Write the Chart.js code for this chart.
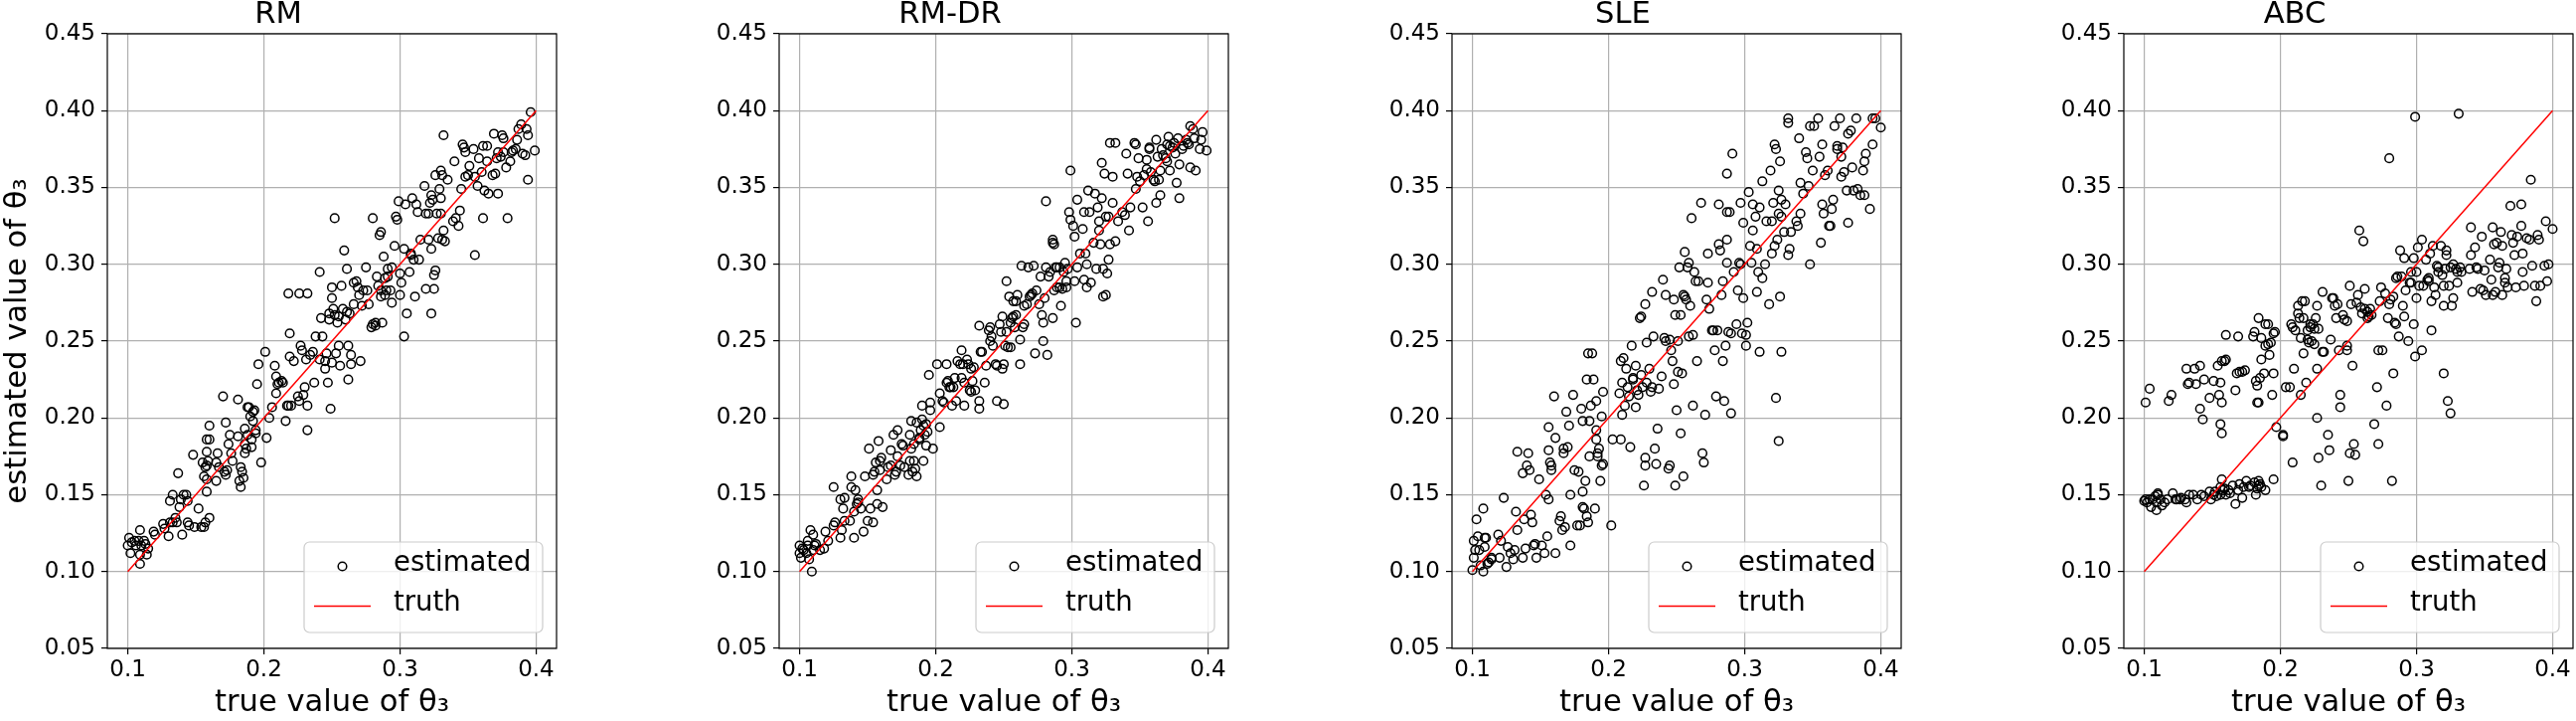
<!DOCTYPE html>
<html>
<head>
<meta charset="utf-8">
<script src="https://cdn.jsdelivr.net/npm/chart.js@4.4.1/dist/chart.umd.min.js"></script>
<style>
html,body{margin:0;padding:0;background:#fff;overflow:hidden;width:2592px;height:725px;}
.p{position:absolute;top:0;width:668px;height:725px;}
canvas{display:block;}
</style>
</head>
<body>
<div class="p" id="w0"><canvas id="c0" width="668" height="725"></canvas></div>
<div class="p" id="w1"><canvas id="c1" width="668" height="725"></canvas></div>
<div class="p" id="w2"><canvas id="c2" width="668" height="725"></canvas></div>
<div class="p" id="w3"><canvas id="c3" width="668" height="725"></canvas></div>
<script>
const panelTitles = ['RM', 'RM-DR', 'SLE', 'ABC'];
const xTicks = [0.1, 0.2, 0.3, 0.4];
const yTicks = [0.05, 0.10, 0.15, 0.20, 0.25, 0.30, 0.35, 0.40, 0.45];
const xLabel = 'true value of θ₃';
const yLabel = 'estimated value of θ₃';
const legendLabels = ['estimated', 'truth'];
const truthLine = [0.1, 0.4];

const rmPts = [[0.100,0.117],[0.101,0.122],[0.102,0.112],[0.103,0.119],[0.105,0.120],[0.106,0.117],[0.108,0.120],[0.109,0.127],[0.109,0.111],[0.109,0.105],[0.110,0.117],[0.112,0.120],[0.113,0.118],[0.114,0.111],[0.115,0.115],[0.119,0.126],[0.120,0.124],[0.126,0.131],[0.127,0.128],[0.130,0.123],[0.131,0.132],[0.131,0.146],[0.133,0.132],[0.133,0.150],[0.135,0.135],[0.136,0.132],[0.137,0.164],[0.138,0.142],[0.139,0.147],[0.140,0.124],[0.141,0.150],[0.143,0.150],[0.144,0.132],[0.144,0.146],[0.145,0.130],[0.148,0.176],[0.149,0.129],[0.152,0.141],[0.154,0.129],[0.156,0.129],[0.157,0.132],[0.158,0.152],[0.155,0.171],[0.156,0.162],[0.157,0.168],[0.158,0.160],[0.159,0.172],[0.160,0.135],[0.158,0.186],[0.160,0.186],[0.160,0.195],[0.158,0.178],[0.158,0.169],[0.165,0.159],[0.165,0.171],[0.166,0.177],[0.167,0.168],[0.170,0.214],[0.171,0.165],[0.172,0.197],[0.172,0.163],[0.173,0.166],[0.174,0.183],[0.175,0.189],[0.176,0.177],[0.177,0.172],[0.181,0.212],[0.181,0.188],[0.182,0.159],[0.183,0.155],[0.183,0.168],[0.184,0.165],[0.185,0.161],[0.186,0.193],[0.186,0.183],[0.186,0.177],[0.187,0.180],[0.188,0.189],[0.188,0.207],[0.189,0.207],[0.190,0.201],[0.191,0.186],[0.191,0.181],[0.192,0.198],[0.192,0.204],[0.193,0.205],[0.194,0.192],[0.194,0.190],[0.195,0.222],[0.196,0.235],[0.198,0.171],[0.202,0.187],[0.201,0.243],[0.204,0.200],[0.206,0.207],[0.208,0.234],[0.209,0.216],[0.209,0.227],[0.210,0.222],[0.211,0.223],[0.213,0.224],[0.214,0.223],[0.216,0.198],[0.217,0.208],[0.218,0.208],[0.218,0.281],[0.219,0.255],[0.219,0.240],[0.220,0.208],[0.222,0.237],[0.225,0.214],[0.226,0.281],[0.226,0.211],[0.227,0.247],[0.228,0.244],[0.229,0.215],[0.230,0.220],[0.231,0.238],[0.232,0.281],[0.232,0.208],[0.232,0.192],[0.234,0.241],[0.236,0.243],[0.237,0.223],[0.238,0.253],[0.241,0.295],[0.241,0.238],[0.242,0.265],[0.243,0.253],[0.245,0.232],[0.245,0.237],[0.246,0.242],[0.247,0.223],[0.248,0.268],[0.248,0.264],[0.249,0.206],[0.250,0.285],[0.250,0.236],[0.250,0.278],[0.251,0.271],[0.252,0.267],[0.252,0.330],[0.253,0.242],[0.254,0.262],[0.255,0.266],[0.255,0.247],[0.256,0.234],[0.257,0.286],[0.258,0.271],[0.259,0.309],[0.260,0.264],[0.261,0.297],[0.261,0.269],[0.262,0.225],[0.262,0.247],[0.263,0.268],[0.264,0.235],[0.264,0.241],[0.266,0.288],[0.266,0.274],[0.268,0.289],[0.269,0.285],[0.270,0.280],[0.271,0.237],[0.272,0.273],[0.273,0.283],[0.275,0.298],[0.276,0.283],[0.277,0.274],[0.279,0.259],[0.280,0.261],[0.280,0.330],[0.282,0.260],[0.282,0.262],[0.283,0.292],[0.284,0.286],[0.285,0.319],[0.286,0.321],[0.286,0.279],[0.286,0.283],[0.287,0.262],[0.288,0.305],[0.289,0.291],[0.289,0.280],[0.290,0.283],[0.291,0.292],[0.291,0.297],[0.293,0.283],[0.294,0.298],[0.294,0.275],[0.296,0.312],[0.297,0.331],[0.298,0.329],[0.299,0.341],[0.300,0.294],[0.300,0.280],[0.301,0.288],[0.303,0.310],[0.303,0.253],[0.304,0.339],[0.305,0.268],[0.307,0.295],[0.308,0.307],[0.308,0.306],[0.309,0.343],[0.310,0.303],[0.311,0.279],[0.312,0.339],[0.313,0.334],[0.314,0.303],[0.315,0.316],[0.318,0.351],[0.319,0.284],[0.319,0.333],[0.321,0.333],[0.321,0.316],[0.322,0.340],[0.323,0.345],[0.323,0.268],[0.323,0.310],[0.324,0.342],[0.325,0.284],[0.325,0.293],[0.326,0.296],[0.326,0.358],[0.327,0.333],[0.328,0.317],[0.329,0.349],[0.330,0.333],[0.330,0.361],[0.330,0.343],[0.331,0.358],[0.331,0.316],[0.332,0.322],[0.332,0.384],[0.333,0.315],[0.335,0.355],[0.339,0.328],[0.340,0.367],[0.341,0.330],[0.343,0.325],[0.344,0.335],[0.345,0.349],[0.346,0.378],[0.347,0.376],[0.348,0.373],[0.348,0.357],[0.350,0.358],[0.351,0.364],[0.354,0.375],[0.355,0.306],[0.355,0.357],[0.357,0.351],[0.358,0.369],[0.360,0.360],[0.361,0.377],[0.361,0.330],[0.362,0.348],[0.364,0.377],[0.364,0.367],[0.365,0.346],[0.368,0.358],[0.369,0.385],[0.370,0.359],[0.371,0.369],[0.372,0.346],[0.372,0.373],[0.374,0.370],[0.375,0.384],[0.376,0.382],[0.376,0.373],[0.378,0.363],[0.379,0.330],[0.381,0.367],[0.382,0.373],[0.383,0.374],[0.385,0.375],[0.386,0.381],[0.387,0.388],[0.389,0.391],[0.390,0.372],[0.392,0.371],[0.393,0.388],[0.394,0.384],[0.394,0.355],[0.396,0.399],[0.399,0.374]];

const rmdrPts = [[0.100,0.117],[0.100,0.112],[0.101,0.109],[0.102,0.115],[0.103,0.114],[0.105,0.112],[0.106,0.117],[0.106,0.120],[0.107,0.108],[0.108,0.127],[0.109,0.100],[0.110,0.124],[0.110,0.114],[0.111,0.117],[0.112,0.118],[0.115,0.114],[0.118,0.115],[0.119,0.126],[0.121,0.120],[0.125,0.155],[0.125,0.130],[0.126,0.132],[0.130,0.147],[0.130,0.122],[0.131,0.127],[0.132,0.141],[0.133,0.148],[0.133,0.133],[0.137,0.133],[0.138,0.155],[0.138,0.162],[0.140,0.122],[0.140,0.139],[0.141,0.153],[0.142,0.144],[0.143,0.147],[0.143,0.145],[0.145,0.141],[0.147,0.126],[0.148,0.162],[0.150,0.133],[0.151,0.180],[0.152,0.141],[0.154,0.132],[0.154,0.163],[0.155,0.165],[0.156,0.171],[0.157,0.144],[0.157,0.153],[0.158,0.185],[0.159,0.166],[0.159,0.172],[0.160,0.174],[0.161,0.142],[0.164,0.160],[0.165,0.168],[0.167,0.169],[0.167,0.179],[0.169,0.189],[0.170,0.163],[0.171,0.165],[0.172,0.192],[0.172,0.175],[0.174,0.169],[0.175,0.183],[0.176,0.182],[0.177,0.168],[0.180,0.163],[0.181,0.189],[0.181,0.172],[0.182,0.198],[0.182,0.180],[0.183,0.165],[0.184,0.172],[0.184,0.183],[0.185,0.167],[0.186,0.162],[0.186,0.197],[0.188,0.187],[0.188,0.186],[0.189,0.192],[0.190,0.208],[0.190,0.199],[0.191,0.172],[0.191,0.195],[0.192,0.189],[0.193,0.196],[0.193,0.182],[0.194,0.191],[0.195,0.228],[0.196,0.205],[0.196,0.210],[0.198,0.180],[0.201,0.235],[0.203,0.194],[0.203,0.216],[0.205,0.211],[0.206,0.210],[0.208,0.235],[0.208,0.223],[0.209,0.224],[0.210,0.220],[0.211,0.220],[0.212,0.208],[0.213,0.220],[0.214,0.226],[0.215,0.211],[0.216,0.237],[0.218,0.235],[0.219,0.244],[0.219,0.226],[0.220,0.235],[0.221,0.223],[0.221,0.208],[0.223,0.238],[0.224,0.235],[0.225,0.218],[0.226,0.217],[0.226,0.232],[0.227,0.224],[0.228,0.233],[0.229,0.218],[0.232,0.260],[0.232,0.211],[0.232,0.206],[0.233,0.243],[0.234,0.243],[0.236,0.223],[0.237,0.234],[0.239,0.257],[0.240,0.259],[0.240,0.250],[0.241,0.253],[0.242,0.247],[0.244,0.235],[0.245,0.211],[0.245,0.234],[0.247,0.261],[0.248,0.256],[0.249,0.266],[0.249,0.232],[0.250,0.209],[0.250,0.235],[0.251,0.247],[0.252,0.256],[0.252,0.289],[0.253,0.246],[0.254,0.279],[0.255,0.246],[0.255,0.262],[0.256,0.265],[0.257,0.276],[0.257,0.266],[0.258,0.259],[0.259,0.276],[0.259,0.267],[0.260,0.280],[0.262,0.235],[0.262,0.251],[0.263,0.299],[0.264,0.259],[0.265,0.261],[0.265,0.273],[0.267,0.274],[0.268,0.298],[0.269,0.279],[0.270,0.280],[0.271,0.281],[0.272,0.299],[0.273,0.242],[0.274,0.283],[0.276,0.274],[0.277,0.292],[0.278,0.267],[0.279,0.262],[0.279,0.250],[0.280,0.278],[0.281,0.341],[0.281,0.298],[0.282,0.241],[0.283,0.292],[0.284,0.295],[0.286,0.316],[0.286,0.314],[0.286,0.265],[0.287,0.313],[0.287,0.283],[0.288,0.298],[0.289,0.285],[0.289,0.298],[0.291,0.285],[0.291,0.298],[0.292,0.273],[0.293,0.284],[0.294,0.295],[0.295,0.301],[0.296,0.285],[0.296,0.289],[0.297,0.297],[0.298,0.334],[0.299,0.329],[0.299,0.361],[0.301,0.325],[0.302,0.289],[0.302,0.318],[0.303,0.262],[0.304,0.342],[0.304,0.298],[0.306,0.307],[0.308,0.323],[0.309,0.290],[0.309,0.334],[0.310,0.307],[0.311,0.285],[0.311,0.300],[0.312,0.348],[0.313,0.334],[0.314,0.288],[0.316,0.314],[0.317,0.346],[0.318,0.297],[0.319,0.337],[0.320,0.328],[0.320,0.322],[0.321,0.313],[0.322,0.343],[0.322,0.366],[0.323,0.297],[0.323,0.279],[0.324,0.359],[0.325,0.331],[0.325,0.280],[0.326,0.294],[0.327,0.303],[0.327,0.331],[0.328,0.313],[0.328,0.379],[0.330,0.340],[0.330,0.357],[0.332,0.315],[0.332,0.379],[0.334,0.328],[0.337,0.334],[0.339,0.332],[0.340,0.372],[0.341,0.359],[0.342,0.322],[0.343,0.337],[0.346,0.379],[0.347,0.349],[0.347,0.378],[0.348,0.357],[0.349,0.369],[0.350,0.354],[0.352,0.337],[0.353,0.358],[0.355,0.368],[0.355,0.362],[0.356,0.328],[0.357,0.375],[0.357,0.376],[0.358,0.360],[0.360,0.355],[0.361,0.354],[0.362,0.340],[0.362,0.381],[0.363,0.370],[0.364,0.355],[0.365,0.361],[0.365,0.345],[0.366,0.375],[0.367,0.371],[0.369,0.369],[0.370,0.367],[0.370,0.378],[0.371,0.383],[0.372,0.377],[0.372,0.361],[0.374,0.376],[0.375,0.379],[0.376,0.372],[0.377,0.353],[0.378,0.382],[0.379,0.365],[0.379,0.343],[0.381,0.375],[0.382,0.377],[0.384,0.381],[0.385,0.379],[0.386,0.378],[0.387,0.363],[0.387,0.390],[0.389,0.388],[0.390,0.382],[0.391,0.361],[0.394,0.375],[0.395,0.381],[0.396,0.386],[0.399,0.374]];

const slePts = [[0.100,0.101],[0.101,0.120],[0.101,0.109],[0.102,0.114],[0.103,0.134],[0.104,0.123],[0.105,0.114],[0.106,0.104],[0.108,0.100],[0.108,0.141],[0.109,0.122],[0.109,0.116],[0.110,0.122],[0.111,0.105],[0.112,0.106],[0.114,0.108],[0.114,0.109],[0.119,0.124],[0.120,0.109],[0.121,0.120],[0.123,0.148],[0.125,0.103],[0.126,0.116],[0.128,0.112],[0.130,0.108],[0.131,0.114],[0.132,0.139],[0.133,0.127],[0.133,0.178],[0.137,0.109],[0.137,0.164],[0.138,0.134],[0.139,0.115],[0.140,0.169],[0.141,0.177],[0.142,0.166],[0.143,0.137],[0.144,0.132],[0.145,0.117],[0.146,0.118],[0.147,0.109],[0.149,0.160],[0.151,0.117],[0.153,0.112],[0.154,0.150],[0.155,0.123],[0.156,0.147],[0.156,0.194],[0.156,0.179],[0.157,0.171],[0.158,0.169],[0.158,0.166],[0.160,0.214],[0.161,0.187],[0.161,0.112],[0.164,0.133],[0.165,0.136],[0.166,0.127],[0.167,0.177],[0.167,0.180],[0.168,0.129],[0.169,0.204],[0.170,0.181],[0.171,0.195],[0.172,0.117],[0.172,0.150],[0.174,0.215],[0.175,0.166],[0.177,0.130],[0.178,0.165],[0.179,0.130],[0.180,0.206],[0.181,0.198],[0.181,0.142],[0.181,0.152],[0.182,0.141],[0.183,0.159],[0.184,0.136],[0.184,0.225],[0.185,0.242],[0.185,0.132],[0.186,0.198],[0.186,0.175],[0.187,0.208],[0.188,0.242],[0.189,0.225],[0.190,0.141],[0.191,0.186],[0.191,0.211],[0.191,0.192],[0.192,0.175],[0.192,0.177],[0.193,0.180],[0.194,0.159],[0.195,0.169],[0.195,0.201],[0.196,0.170],[0.196,0.217],[0.202,0.130],[0.203,0.186],[0.208,0.216],[0.209,0.186],[0.209,0.237],[0.210,0.202],[0.210,0.223],[0.211,0.239],[0.212,0.208],[0.213,0.232],[0.214,0.220],[0.215,0.214],[0.216,0.181],[0.217,0.247],[0.218,0.225],[0.218,0.226],[0.220,0.207],[0.220,0.234],[0.221,0.218],[0.222,0.215],[0.223,0.265],[0.224,0.266],[0.224,0.228],[0.225,0.220],[0.226,0.156],[0.227,0.169],[0.227,0.174],[0.227,0.274],[0.228,0.249],[0.228,0.223],[0.230,0.232],[0.231,0.217],[0.232,0.282],[0.232,0.220],[0.233,0.253],[0.234,0.180],[0.235,0.170],[0.236,0.193],[0.237,0.219],[0.239,0.227],[0.240,0.290],[0.241,0.252],[0.242,0.280],[0.242,0.250],[0.244,0.167],[0.245,0.251],[0.245,0.169],[0.246,0.244],[0.247,0.237],[0.248,0.277],[0.248,0.222],[0.249,0.267],[0.249,0.156],[0.250,0.205],[0.251,0.250],[0.251,0.230],[0.252,0.298],[0.253,0.267],[0.253,0.190],[0.254,0.229],[0.255,0.162],[0.255,0.280],[0.256,0.308],[0.256,0.279],[0.257,0.277],[0.258,0.298],[0.259,0.301],[0.259,0.253],[0.260,0.273],[0.261,0.330],[0.262,0.254],[0.262,0.208],[0.263,0.295],[0.264,0.289],[0.265,0.237],[0.266,0.289],[0.268,0.340],[0.269,0.177],[0.270,0.171],[0.271,0.202],[0.272,0.277],[0.273,0.307],[0.273,0.288],[0.274,0.271],[0.276,0.257],[0.277,0.257],[0.278,0.244],[0.279,0.214],[0.280,0.257],[0.281,0.339],[0.281,0.313],[0.282,0.309],[0.283,0.280],[0.284,0.289],[0.284,0.237],[0.285,0.211],[0.286,0.247],[0.287,0.359],[0.287,0.316],[0.287,0.301],[0.287,0.334],[0.288,0.256],[0.289,0.334],[0.290,0.203],[0.290,0.255],[0.291,0.372],[0.292,0.295],[0.294,0.261],[0.295,0.283],[0.296,0.301],[0.297,0.300],[0.297,0.340],[0.298,0.255],[0.299,0.327],[0.299,0.278],[0.301,0.247],[0.301,0.254],[0.302,0.262],[0.303,0.347],[0.304,0.312],[0.305,0.301],[0.306,0.322],[0.306,0.339],[0.308,0.331],[0.309,0.310],[0.309,0.282],[0.310,0.295],[0.311,0.243],[0.311,0.337],[0.313,0.354],[0.313,0.291],[0.315,0.300],[0.316,0.328],[0.318,0.274],[0.319,0.361],[0.320,0.307],[0.320,0.328],[0.321,0.340],[0.322,0.378],[0.322,0.312],[0.323,0.375],[0.323,0.213],[0.324,0.316],[0.325,0.185],[0.325,0.348],[0.325,0.333],[0.326,0.367],[0.326,0.279],[0.327,0.331],[0.327,0.243],[0.327,0.342],[0.329,0.321],[0.330,0.339],[0.332,0.306],[0.333,0.310],[0.332,0.395],[0.332,0.392],[0.334,0.321],[0.338,0.328],[0.339,0.325],[0.340,0.382],[0.341,0.353],[0.341,0.333],[0.343,0.346],[0.345,0.373],[0.346,0.369],[0.347,0.351],[0.348,0.390],[0.348,0.300],[0.350,0.361],[0.351,0.390],[0.354,0.395],[0.355,0.370],[0.356,0.314],[0.357,0.339],[0.357,0.378],[0.358,0.333],[0.359,0.358],[0.361,0.361],[0.362,0.325],[0.363,0.325],[0.364,0.336],[0.365,0.342],[0.366,0.390],[0.368,0.377],[0.368,0.375],[0.370,0.395],[0.371,0.357],[0.371,0.370],[0.372,0.376],[0.373,0.360],[0.375,0.348],[0.376,0.385],[0.376,0.327],[0.378,0.387],[0.379,0.363],[0.380,0.348],[0.382,0.395],[0.383,0.349],[0.385,0.345],[0.387,0.361],[0.388,0.345],[0.388,0.367],[0.389,0.372],[0.392,0.336],[0.394,0.395],[0.394,0.378],[0.396,0.395],[0.400,0.389]];

const abcPts = [[0.100,0.146],[0.101,0.147],[0.102,0.145],[0.104,0.147],[0.105,0.142],[0.106,0.147],[0.108,0.149],[0.109,0.140],[0.109,0.145],[0.110,0.151],[0.110,0.150],[0.112,0.147],[0.113,0.143],[0.115,0.145],[0.117,0.147],[0.121,0.151],[0.123,0.147],[0.124,0.147],[0.126,0.147],[0.127,0.148],[0.130,0.147],[0.131,0.145],[0.133,0.150],[0.136,0.150],[0.139,0.147],[0.142,0.150],[0.144,0.149],[0.148,0.152],[0.149,0.147],[0.151,0.150],[0.152,0.152],[0.153,0.149],[0.156,0.155],[0.156,0.150],[0.157,0.160],[0.158,0.153],[0.159,0.154],[0.160,0.150],[0.162,0.153],[0.163,0.151],[0.165,0.156],[0.167,0.144],[0.169,0.153],[0.170,0.157],[0.172,0.148],[0.173,0.155],[0.175,0.159],[0.177,0.155],[0.178,0.156],[0.181,0.158],[0.182,0.150],[0.183,0.154],[0.184,0.156],[0.184,0.159],[0.185,0.157],[0.186,0.155],[0.189,0.153],[0.195,0.160],[0.101,0.210],[0.104,0.219],[0.118,0.211],[0.120,0.215],[0.131,0.232],[0.132,0.222],[0.133,0.223],[0.137,0.232],[0.138,0.222],[0.141,0.234],[0.141,0.206],[0.143,0.199],[0.144,0.225],[0.148,0.213],[0.151,0.224],[0.154,0.234],[0.155,0.215],[0.156,0.196],[0.156,0.223],[0.157,0.210],[0.157,0.190],[0.157,0.237],[0.159,0.237],[0.160,0.254],[0.160,0.238],[0.167,0.218],[0.168,0.229],[0.169,0.253],[0.170,0.230],[0.172,0.230],[0.174,0.231],[0.180,0.253],[0.181,0.256],[0.182,0.224],[0.183,0.221],[0.183,0.210],[0.184,0.265],[0.184,0.210],[0.185,0.226],[0.186,0.238],[0.186,0.252],[0.188,0.229],[0.189,0.261],[0.189,0.247],[0.191,0.248],[0.191,0.261],[0.192,0.241],[0.193,0.249],[0.194,0.215],[0.195,0.229],[0.195,0.255],[0.196,0.256],[0.197,0.194],[0.202,0.189],[0.202,0.188],[0.204,0.220],[0.207,0.220],[0.209,0.171],[0.210,0.232],[0.208,0.261],[0.209,0.259],[0.211,0.257],[0.213,0.268],[0.213,0.273],[0.214,0.265],[0.215,0.252],[0.215,0.215],[0.216,0.276],[0.217,0.265],[0.217,0.242],[0.218,0.276],[0.219,0.223],[0.220,0.257],[0.220,0.251],[0.221,0.249],[0.222,0.259],[0.222,0.261],[0.223,0.250],[0.224,0.261],[0.225,0.258],[0.225,0.248],[0.226,0.265],[0.227,0.273],[0.227,0.232],[0.227,0.200],[0.228,0.174],[0.228,0.258],[0.230,0.156],[0.231,0.243],[0.231,0.282],[0.232,0.243],[0.235,0.189],[0.236,0.179],[0.237,0.251],[0.238,0.278],[0.239,0.278],[0.240,0.273],[0.241,0.265],[0.242,0.274],[0.243,0.244],[0.244,0.207],[0.244,0.215],[0.246,0.267],[0.247,0.264],[0.249,0.263],[0.249,0.244],[0.249,0.247],[0.250,0.159],[0.251,0.177],[0.251,0.286],[0.252,0.274],[0.253,0.234],[0.254,0.183],[0.255,0.176],[0.256,0.275],[0.257,0.280],[0.258,0.322],[0.259,0.272],[0.260,0.268],[0.261,0.315],[0.262,0.284],[0.262,0.271],[0.264,0.269],[0.264,0.265],[0.265,0.266],[0.266,0.271],[0.267,0.267],[0.269,0.196],[0.271,0.220],[0.272,0.183],[0.272,0.244],[0.273,0.276],[0.274,0.285],[0.275,0.244],[0.277,0.281],[0.278,0.208],[0.279,0.265],[0.280,0.274],[0.280,0.369],[0.281,0.277],[0.282,0.159],[0.283,0.229],[0.283,0.279],[0.284,0.262],[0.285,0.261],[0.285,0.291],[0.286,0.292],[0.287,0.253],[0.288,0.309],[0.289,0.292],[0.290,0.273],[0.291,0.304],[0.291,0.266],[0.292,0.283],[0.294,0.250],[0.295,0.288],[0.296,0.295],[0.296,0.288],[0.298,0.304],[0.298,0.261],[0.299,0.240],[0.299,0.396],[0.300,0.278],[0.300,0.295],[0.301,0.311],[0.302,0.286],[0.304,0.244],[0.304,0.316],[0.305,0.286],[0.307,0.303],[0.308,0.290],[0.309,0.291],[0.309,0.289],[0.310,0.307],[0.311,0.276],[0.311,0.257],[0.312,0.312],[0.313,0.285],[0.314,0.280],[0.315,0.299],[0.316,0.295],[0.316,0.298],[0.318,0.312],[0.319,0.293],[0.320,0.229],[0.320,0.273],[0.320,0.286],[0.321,0.297],[0.322,0.306],[0.322,0.309],[0.323,0.211],[0.324,0.286],[0.325,0.203],[0.325,0.298],[0.326,0.273],[0.327,0.278],[0.327,0.300],[0.329,0.297],[0.330,0.295],[0.330,0.288],[0.331,0.398],[0.332,0.298],[0.333,0.295],[0.339,0.297],[0.340,0.324],[0.340,0.306],[0.341,0.282],[0.343,0.311],[0.344,0.298],[0.345,0.297],[0.347,0.284],[0.348,0.318],[0.349,0.283],[0.350,0.296],[0.351,0.280],[0.354,0.303],[0.355,0.290],[0.356,0.324],[0.356,0.280],[0.357,0.313],[0.358,0.282],[0.359,0.314],[0.360,0.298],[0.361,0.301],[0.362,0.321],[0.363,0.280],[0.363,0.312],[0.365,0.288],[0.365,0.291],[0.366,0.297],[0.367,0.285],[0.369,0.338],[0.370,0.319],[0.371,0.314],[0.372,0.306],[0.373,0.285],[0.374,0.318],[0.377,0.325],[0.377,0.339],[0.378,0.307],[0.378,0.295],[0.379,0.286],[0.381,0.317],[0.383,0.316],[0.384,0.355],[0.385,0.299],[0.387,0.286],[0.388,0.276],[0.389,0.319],[0.390,0.316],[0.391,0.286],[0.394,0.299],[0.395,0.328],[0.396,0.289],[0.397,0.300],[0.400,0.323]];

const panelPoints = [rmPts, rmdrPts, slePts, abcPts];
const plotLefts = [108, 784, 1461, 2137];
const AXW = 108;
const FONT = '"DejaVu Sans", sans-serif';
const MARKER_R = 4.3;
const MARKER_W = 1.5;

const framePlugin = {
  id: 'frameAndLegend',
  afterDraw(chart) {
    const ctx = chart.ctx, a = chart.chartArea;
    ctx.save();
    ctx.strokeStyle = '#000';
    ctx.lineWidth = 1.2;
    ctx.strokeRect(a.left, a.top, a.right - a.left, a.bottom - a.top);
    // legend, matplotlib style (lower right, inside axes)
    const bw = 240, bh = 91;
    const bx = a.right - 14 - bw, by = a.bottom - 16 - bh;
    ctx.beginPath();
    ctx.roundRect(bx, by, bw, bh, 5.5);
    ctx.fillStyle = 'rgba(255,255,255,0.8)';
    ctx.fill();
    ctx.strokeStyle = '#cccccc';
    ctx.lineWidth = 1.2;
    ctx.stroke();
    ctx.beginPath();
    ctx.arc(bx + 38.5, by + 24.5, MARKER_R, 0, Math.PI * 2);
    ctx.strokeStyle = '#000';
    ctx.lineWidth = MARKER_W;
    ctx.stroke();
    ctx.beginPath();
    ctx.moveTo(bx + 10, by + 64.5);
    ctx.lineTo(bx + 67, by + 64.5);
    ctx.strokeStyle = '#ff0000';
    ctx.lineWidth = 1.5;
    ctx.stroke();
    ctx.fillStyle = '#000';
    ctx.font = '27.5px ' + FONT;
    ctx.textBaseline = 'middle';
    ctx.textAlign = 'left';
    ctx.fillText(legendLabels[0], bx + 90, by + 22);
    ctx.fillText(legendLabels[1], bx + 90, by + 62);
    ctx.restore();
  }
};

panelPoints.forEach((pts, i) => {
  document.getElementById('w' + i).style.left = (plotLefts[i] - AXW) + 'px';
  const ctx = document.getElementById('c' + i);
  new Chart(ctx, {
    type: 'scatter',
    data: {
      datasets: [
        {
          type: 'line',
          label: legendLabels[1],
          data: truthLine.map(v => ({x: v, y: v})),
          borderColor: '#ff0000',
          borderWidth: 1.5,
          pointRadius: 0,
          fill: false,
          order: 0
        },
        {
          label: legendLabels[0],
          data: pts.map(p => ({x: p[0], y: p[1]})),
          pointStyle: 'circle',
          pointRadius: MARKER_R,
          borderColor: '#000',
          backgroundColor: 'rgba(0,0,0,0)',
          borderWidth: MARKER_W,
          order: 1
        }
      ]
    },
    options: {
      responsive: false,
      animation: false,
      devicePixelRatio: 1,
      layout: { padding: { left: 0, right: AXW, top: 0, bottom: 0 } },
      plugins: {
        legend: { display: false },
        tooltip: { enabled: false },
        title: {
          display: true,
          text: panelTitles[i],
          color: '#000',
          font: { family: FONT, size: 30.6, weight: 'normal', lineHeight: 1 },
          padding: { top: 0, bottom: 3.4 }
        }
      },
      scales: {
        x: {
          type: 'linear',
          min: 0.085,
          max: 0.415,
          afterBuildTicks: s => { s.ticks = xTicks.map(v => ({value: v})); },
          afterFit: s => { s.height = 73; },
          border: { display: false },
          grid: { color: '#b0b0b0', lineWidth: 1.2, tickColor: '#000', tickLength: 6, tickWidth: 1.2 },
          ticks: { color: '#000', font: { family: FONT, size: 23 }, padding: 2, autoSkip: false, maxRotation: 0,
                   callback: v => v.toFixed(1) },
          title: { display: true, text: xLabel, color: '#000', font: { family: FONT, size: 30.6 }, padding: { top: 0, bottom: 0 } }
        },
        y: {
          type: 'linear',
          min: 0.05,
          max: 0.45,
          afterBuildTicks: s => { s.ticks = yTicks.map(v => ({value: v})); },
          afterFit: s => { s.width = AXW; },
          border: { display: false },
          grid: { color: '#b0b0b0', lineWidth: 1.2, tickColor: '#000', tickLength: 6, tickWidth: 1.2 },
          ticks: { color: '#000', font: { family: FONT, size: 23 }, padding: 6, autoSkip: false,
                   callback: v => v.toFixed(2) },
          title: { display: i === 0, text: yLabel, color: '#000', font: { family: FONT, size: 30.6 }, padding: { top: 0, bottom: 0 } }
        }
      }
    },
    plugins: [framePlugin]
  });
});
</script>
</body>
</html>
